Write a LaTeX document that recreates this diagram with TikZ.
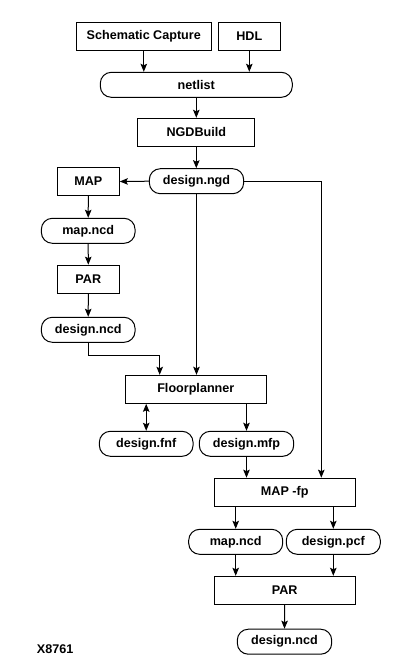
\documentclass[tikz,border=0pt]{standalone}
\usepackage{fontspec}
\setmainfont{Liberation Sans}
\usetikzlibrary{arrows.meta,calc}
\begin{document}
\begin{tikzpicture}[x=1pt,y=-1pt,
  every node/.style={font=\fontsize{12.6}{15}\selectfont\bfseries, inner sep=0pt},
  procbox/.style={draw, line width=1pt, rectangle, minimum height=28pt},
  filebox/.style={draw, line width=1pt, rectangle, rounded corners=11pt, minimum height=25pt},
  arr/.style={line width=1pt, -{Stealth[length=8pt,width=6.5pt,inset=1.5pt]}},
  darr/.style={line width=1pt, {Stealth[length=8pt,width=6.5pt,inset=1.5pt]}-{Stealth[length=8pt,width=6.5pt,inset=1.5pt]}},
  ln/.style={line width=1pt}]
\useasboundingbox (0,0) rectangle (406,667);
\fill[white] (0,0) rectangle (406,667);

\node[procbox, minimum width=135pt] (sc) at (143.8,36.3) {Schematic Capture};
\node[procbox, minimum width=62pt] (hdl) at (249.3,36.3) {HDL};
\node[filebox, minimum width=192pt] (netlist) at (196.3,84.8) {netlist};
\node[procbox, minimum width=117pt] (ngdb) at (196.3,132.3) {NGDBuild};
\node[filebox, minimum width=94.4pt] (ngd) at (196.5,181.2) {design.ngd};
\node[procbox, minimum width=62pt] (map) at (88.3,181.5) {MAP};
\node[filebox, minimum width=93.7pt] (mapncd) at (88.2,230.8) {map.ncd};
\node[procbox, minimum width=62pt] (par) at (88.3,279.2) {PAR};
\node[filebox, minimum width=93.7pt] (dncd) at (88.2,329.8) {design.ncd};
\node[procbox, minimum width=141pt] (fp) at (195.8,389.3) {Floorplanner};
\node[filebox, minimum width=93.7pt] (fnf) at (146.2,443.8) {design.fnf};
\node[filebox, minimum width=94.4pt] (mfp) at (246.5,443.8) {design.mfp};
\node[procbox, minimum width=141.3pt] (mapfp) at (284.7,492.2) {MAP -fp};
\node[filebox, minimum width=94pt] (mapncdb) at (235.7,541.8) {map.ncd};
\node[filebox, minimum width=94pt] (pcf) at (333.3,541.8) {design.pcf};
\node[procbox, minimum width=141.3pt] (parb) at (284.7,590.3) {PAR};
\node[filebox, minimum width=94.4pt] (dncdb) at (284.5,641.7) {design.ncd};
\node (lbl) at (55.2,649) {X8761};

\coordinate (xr) at (321.3,0);
\coordinate (xa) at (159.7,0);

\draw[arr] (sc.south) -- (sc.south |- netlist.north);
\draw[arr] (hdl.south) -- (hdl.south |- netlist.north);
\draw[arr] (netlist.south) -- (netlist.south |- ngdb.north);
\draw[arr] (ngdb.south) -- (ngdb.south |- ngd.north);
\draw[arr] (ngd.west) -- (map.east);
\draw[arr] (ngd.east) -| (xr |- mapfp.north);
\draw[arr] (ngd.south) -- (ngd.south |- fp.north);
\draw[arr] (map.south) -- (mapncd.north);
\draw[arr] (mapncd.south) -- (par.north);
\draw[arr] (par.south) -- (dncd.north);
\draw[arr] (dncd.south) -- ++(0,12.5) -| (xa |- fp.north);
\draw[darr] (fnf.north |- fp.south) -- (fnf.north);
\draw[arr] (mfp.north |- fp.south) -- (mfp.north);
\draw[arr] (mfp.south) -- (mfp.south |- mapfp.north);
\draw[arr] (mapncdb.north |- mapfp.south) -- (mapncdb.north);
\draw[arr] (pcf.north |- mapfp.south) -- (pcf.north);
\draw[arr] (mapncdb.south) -- (mapncdb.south |- parb.north);
\draw[arr] (pcf.south) -- (pcf.south |- parb.north);
\draw[arr] (parb.south) -- (dncdb.north);
\end{tikzpicture}
\end{document}
